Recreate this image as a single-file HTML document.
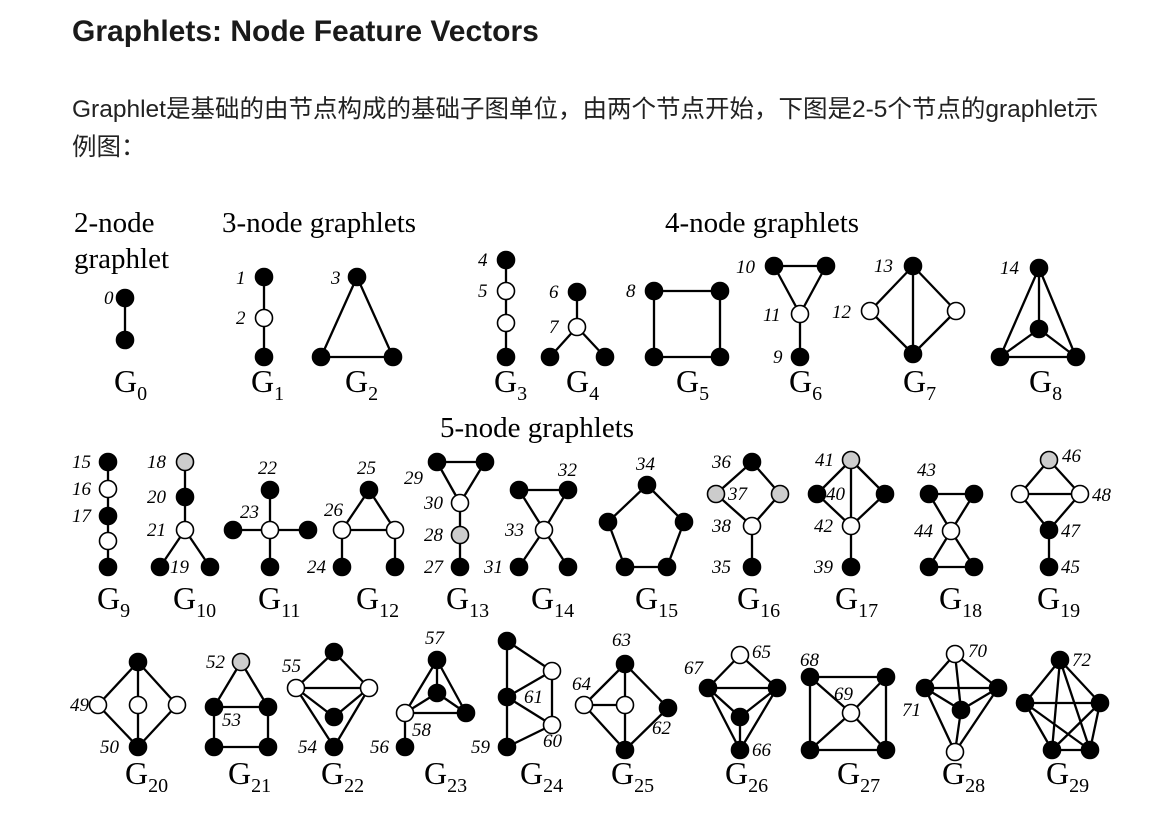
<!DOCTYPE html>
<html><head><meta charset="utf-8"><style>
body{margin:0;background:#fff;width:1168px;height:822px;overflow:hidden;font-family:"Liberation Sans","Noto Sans CJK SC",sans-serif;}
h2{position:absolute;left:72px;top:15px;margin:0;font-size:30px;font-weight:bold;color:#1a1a1a;}
p{position:absolute;left:72px;top:91px;margin:0;width:1090px;font-size:24.5px;line-height:38px;color:#222;white-space:nowrap;}
svg{position:absolute;left:0;top:0;}
</style></head><body>
<h2>Graphlets: Node Feature Vectors</h2>
<p>Graphlet是基础的由节点构成的基础子图单位，由两个节点开始，下图是2-5个节点的graphlet示<br>例图：</p>
<svg id="fig" width="1168" height="822" font-family="Liberation Serif, serif">
<text x="74" y="232" font-size="29">2-node</text>
<text x="74" y="268" font-size="29">graphlet</text>
<text x="222" y="232" font-size="29">3-node graphlets</text>
<text x="665" y="232" font-size="29">4-node graphlets</text>
<text x="440" y="437" font-size="29">5-node graphlets</text>
</svg>
<script>
const graphletNames=["0","1","2","3","4","5","6","7","8","9","10","11","12","13","14","15","16","17","18","19","20","21","22","23","24","25","26","27","28","29"];
const captionPos=[[114,392],[251,392],[345,392],[494,392],[566,392],[676,392],[789,392],[903,392],[1029,392],
[97,609],[173,609],[258,609],[356,609],[446,609],[531,609],[635,609],[737,609],[835,609],[939,609],[1037,609],
[125,784],[228,784],[321,784],[424,784],[520,784],[611,784],[725,784],[837,784],[942,784],[1046,784]];
const B='#000',W='#fff',S='#ccc';
const nodeSets=[
[[125,298,B],[125,340,B]],
[[264,277,B],[264,318,W],[264,357,B]],
[[357,277,B],[321,357,B],[393,357,B]],
[[506,260,B],[506,291,W],[506,323,W],[506,357,B]],
[[577,327,W],[577,292,B],[550,357,B],[605,357,B]],
[[654,291,B],[720,291,B],[654,357,B],[720,357,B]],
[[774,266,B],[826,266,B],[800,314,W],[800,357,B]],
[[913,266,B],[870,311,W],[956,311,W],[913,354,B]],
[[1039,268,B],[1039,329,B],[1000,357,B],[1076,357,B]],
[[108,462,B],[108,489,W],[108,516,B],[108,541,W],[108,567,B]],
[[185,462,S],[185,497,B],[185,530,W],[160,567,B],[210,567,B]],
[[270,530,W],[270,490,B],[233,530,B],[308,530,B],[270,567,B]],
[[369,490,B],[342,530,W],[395,530,W],[342,567,B],[395,567,B]],
[[437,462,B],[485,462,B],[460,503,W],[460,535,S],[460,567,B]],
[[519,490,B],[568,490,B],[544,530,W],[519,567,B],[568,567,B]],
[[647,485,B],[608,522,B],[684,522,B],[625,567,B],[667,567,B]],
[[752,462,B],[716,494,S],[780,494,S],[752,526,W],[752,567,B]],
[[851,460,S],[817,494,B],[885,494,B],[851,526,W],[851,567,B]],
[[929,494,B],[974,494,B],[951,531,W],[929,567,B],[974,567,B]],
[[1049,460,S],[1020,494,W],[1080,494,W],[1049,530,B],[1049,567,B]],
[[138,662,B],[98,705,W],[138,705,W],[177,705,W],[138,747,B]],
[[241,662,S],[214,707,B],[268,707,B],[214,747,B],[268,747,B]],
[[334,652,B],[296,688,W],[369,688,W],[334,717,B],[334,747,B]],
[[437,660,B],[437,693,B],[405,713,W],[466,713,B],[405,747,B]],
[[507,641,B],[552,671,W],[507,697,B],[552,725,W],[507,747,B]],
[[625,664,B],[584,705,W],[625,705,W],[668,708,B],[625,750,B]],
[[740,655,W],[708,688,B],[777,688,B],[740,717,B],[740,750,B]],
[[810,677,B],[886,677,B],[851,713,W],[810,750,B],[886,750,B]],
[[955,654,W],[925,688,B],[998,688,B],[961,710,B],[955,752,W]],
[[1060,660,B],[1025,703,B],[1100,703,B],[1052,750,B],[1090,750,B]]];
const edgeSets=[
[[0,1]],[[0,1],[1,2]],[[0,1],[0,2],[1,2]],[[0,1],[1,2],[2,3]],[[0,1],[0,2],[0,3]],
[[0,1],[1,3],[3,2],[2,0]],[[0,1],[0,2],[1,2],[2,3]],[[0,1],[0,2],[0,3],[1,3],[2,3]],
[[0,1],[0,2],[0,3],[1,2],[1,3],[2,3]],
[[0,1],[1,2],[2,3],[3,4]],[[0,1],[1,2],[2,3],[2,4]],[[0,1],[0,2],[0,3],[0,4]],
[[0,1],[0,2],[1,2],[1,3],[2,4]],[[0,1],[0,2],[1,2],[2,3],[3,4]],[[0,1],[0,2],[1,2],[2,3],[2,4]],
[[0,1],[0,2],[1,3],[3,4],[4,2]],[[0,1],[0,2],[1,3],[2,3],[3,4]],[[0,1],[0,2],[0,3],[1,3],[2,3],[3,4]],
[[0,1],[0,2],[1,2],[2,3],[2,4],[3,4]],[[0,1],[0,2],[1,2],[1,3],[2,3],[3,4]],
[[0,1],[0,2],[0,3],[1,4],[2,4],[3,4]],[[0,1],[0,2],[1,2],[1,3],[2,4],[3,4]],
[[0,1],[0,2],[1,2],[1,3],[2,3],[1,4],[2,4]],[[0,1],[0,2],[0,3],[1,2],[1,3],[2,3],[2,4]],
[[0,1],[0,2],[2,4],[1,2],[1,3],[2,3],[3,4]],[[0,1],[0,2],[0,3],[1,2],[1,4],[2,4],[3,4]],
[[0,1],[0,2],[1,2],[1,3],[2,3],[1,4],[2,4],[3,4]],[[0,1],[0,3],[1,4],[3,4],[0,2],[1,2],[2,3],[2,4]],
[[0,1],[0,2],[0,3],[1,2],[1,3],[2,3],[1,4],[2,4],[3,4]],
[[0,1],[0,2],[0,3],[0,4],[1,2],[1,3],[1,4],[2,3],[2,4],[3,4]]];
const orbitLabels=[["0",104,304],["1",236,284],["2",236,324],["3",331,284],["4",478,266],["5",478,297],["6",549,298],["7",549,333],["8",626,297],
["10",736,273],["11",763,321],["9",773,363],["13",874,272],["12",832,318],["14",1000,274],
["15",72,468],["16",72,495],["17",72,522],["18",147,468],["20",147,503],["21",147,536],["19",170,573],["22",258,474],["23",240,518],["25",357,474],["26",324,516],["24",307,573],["29",404,484],["30",424,509],["28",424,541],["27",424,573],["32",558,476],["33",505,536],["31",484,573],
["34",636,470],["36",712,468],["37",728,500],["38",712,532],["35",712,573],["41",815,466],["40",826,500],["42",814,532],["39",814,573],["43",917,476],["44",914,537],["46",1062,462],["48",1092,501],["47",1061,537],["45",1061,573],
["49",70,711],["50",100,753],["52",206,668],["53",222,726],["55",282,672],["54",298,753],["57",425,644],["58",412,736],["56",370,753],["61",524,703],["60",543,747],["59",471,753],["63",612,646],["64",572,690],["62",652,734],["67",684,674],["65",752,658],["66",752,756],["68",800,666],["69",834,700],["70",968,657],["71",902,716],["72",1072,666]];
const svg=document.getElementById('fig');
const NS='http://www.w3.org/2000/svg';
function mk(t,a){const e=document.createElementNS(NS,t);for(const k in a)e.setAttribute(k,a[k]);return e;}
nodeSets.forEach((nodes,g)=>{
  const grp=mk('g',{});
  
  
  edgeSets[g].forEach(([a,b])=>{
    const l=mk('line',{x1:nodes[a][0],y1:nodes[a][1],x2:nodes[b][0],y2:nodes[b][1],stroke:'#000','stroke-width':2.3});
    
    
    grp.appendChild(l);
  });
  nodes.forEach(n=>{
    const c=mk('circle',{cx:n[0],cy:n[1],r:8.5,fill:n[2],stroke:'#000','stroke-width':1.6});
    
    
    grp.appendChild(c);
  });
  const t=mk('text',{x:captionPos[g][0],y:captionPos[g][1],'font-size':32});
  t.textContent='G';
  const s=mk('tspan',{'font-size':20,dy:8});
  s.textContent=graphletNames[g];
  t.appendChild(s);
  
  
  grp.appendChild(t);
  svg.appendChild(grp);
});
orbitLabels.forEach(([txt,x,y])=>{
  const t=mk('text',{x:x,y:y,'font-size':19,'font-style':'italic'});
  t.textContent=txt;
  
  
  svg.appendChild(t);
});
</script>
</body></html>
